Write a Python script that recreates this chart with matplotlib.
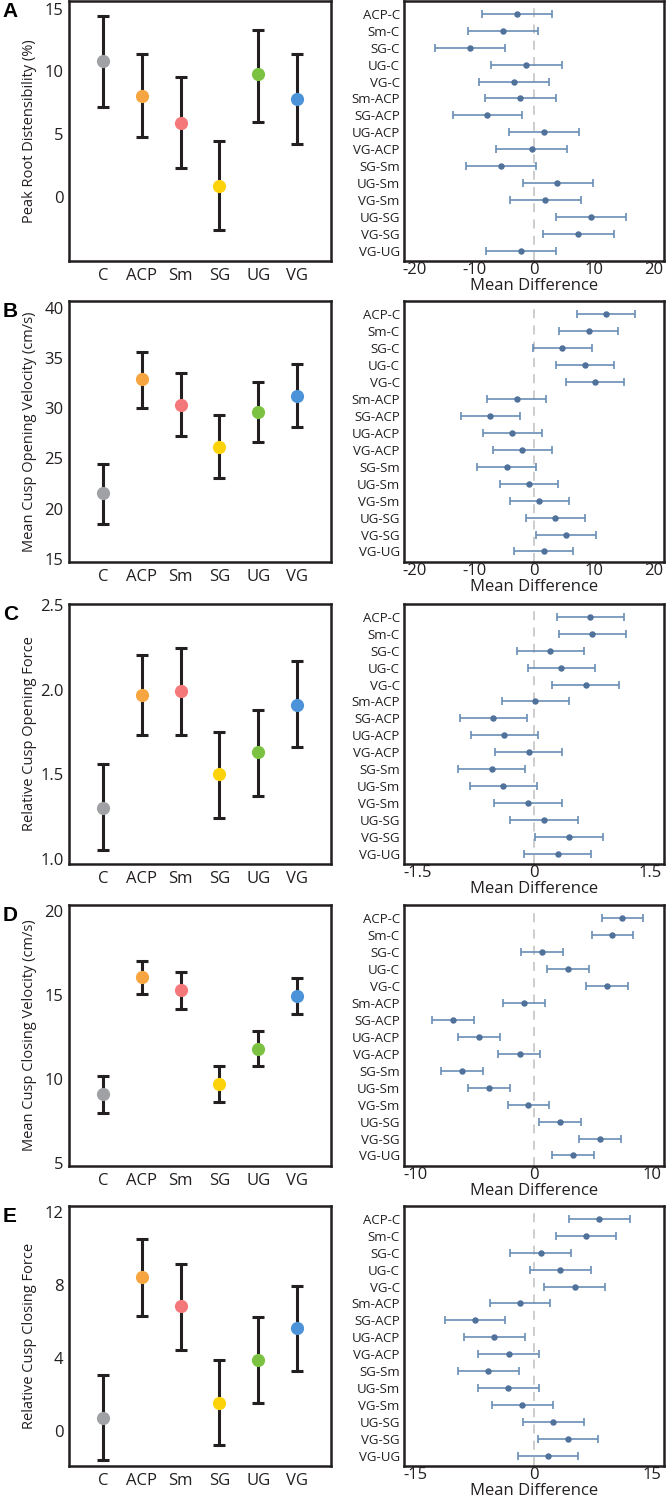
import numpy as np
import matplotlib
matplotlib.use("Agg")
import matplotlib.pyplot as plt

plt.rcParams['font.family'] = ['Open Sans', 'DejaVu Sans']
plt.rcParams['axes.unicode_minus'] = False

groups = ["C", "ACP", "Sm", "SG", "UG", "VG"]
group_colors = ["#a0a1a4", "#f7a540", "#f47879", "#fcd20a", "#7cc242", "#4b92d8"]

pairs = ["ACP-C", "Sm-C", "SG-C", "UG-C", "VG-C", "Sm-ACP", "SG-ACP", "UG-ACP",
         "VG-ACP", "SG-Sm", "UG-Sm", "VG-Sm", "UG-SG", "VG-SG", "VG-UG"]

# group means with their error bar ends (left panels)
distens_mean = [10.8, 8.05, 5.9, 0.85, 9.75, 7.8]
distens_lo = [7.2, 4.75, 2.3, -2.6, 6.0, 4.2]
distens_hi = [14.4, 11.4, 9.55, 4.45, 13.3, 11.4]

open_vel_mean = [21.55, 32.95, 30.3, 26.1, 29.6, 31.25]
open_vel_lo = [18.5, 30.05, 27.25, 23.05, 26.6, 28.1]
open_vel_hi = [24.45, 35.65, 33.5, 29.3, 32.6, 34.45]

open_force_mean = [1.30, 1.97, 1.99, 1.50, 1.63, 1.91]
open_force_lo = [1.05, 1.73, 1.73, 1.24, 1.37, 1.66]
open_force_hi = [1.56, 2.205, 2.245, 1.75, 1.88, 2.17]

close_vel_mean = [9.1, 16.05, 15.3, 9.7, 11.8, 14.93]
close_vel_lo = [7.97, 15.05, 14.16, 8.61, 10.74, 13.88]
close_vel_hi = [10.14, 17.0, 16.34, 10.78, 12.82, 15.98]

close_force_mean = [0.68, 8.42, 6.83, 1.54, 3.89, 5.61]
close_force_lo = [-1.61, 6.28, 4.44, -0.79, 1.50, 3.30]
close_force_hi = [3.03, 10.5, 9.17, 3.87, 6.22, 7.93]

# pairwise mean differences with confidence limits (right panels)
distens_diff = [-2.9, -5.2, -10.7, -1.28, -3.28, -2.28, -7.83, 1.6, -0.39, -5.5, 3.89, 1.89, 9.44, 7.39, -2.17]
distens_diff_lo = [-8.67, -11.06, -16.5, -7.1, -9.17, -8.1, -13.6, -4.17, -6.28, -11.28, -1.89, -3.94, 3.61, 1.5, -8.0]
distens_diff_hi = [3.0, 0.72, -4.83, 4.67, 2.5, 3.6, -1.94, 7.5, 5.5, 0.39, 9.83, 7.78, 15.28, 13.28, 3.72]

open_vel_diff = [12.06, 9.1, 4.72, 8.44, 10.17, -2.9, -7.28, -3.67, -2.0, -4.56, -0.83, 0.89, 3.56, 5.28, 1.61]
open_vel_diff_lo = [7.1, 4.2, -0.1, 3.6, 5.33, -7.83, -12.2, -8.5, -6.89, -9.5, -5.67, -4.0, -1.39, 0.39, -3.28]
open_vel_diff_hi = [16.9, 14.06, 9.67, 13.3, 15.1, 2.06, -2.39, 1.33, 2.94, 0.39, 4.06, 5.83, 8.5, 10.28, 6.56]

open_force_diff = [0.725, 0.751, 0.21, 0.352, 0.665, 0.013, -0.524, -0.382, -0.064, -0.545, -0.399, -0.077, 0.129, 0.446, 0.305]
open_force_diff_lo = [0.296, 0.318, -0.215, -0.073, 0.236, -0.416, -0.957, -0.807, -0.498, -0.979, -0.828, -0.511, -0.305, 0.013, -0.129]
open_force_diff_hi = [1.155, 1.18, 0.648, 0.785, 1.099, 0.446, -0.09, 0.056, 0.365, -0.116, 0.039, 0.356, 0.562, 0.884, 0.738]

close_vel_diff = [7.46, 6.62, 0.65, 2.85, 6.14, -0.85, -6.82, -4.65, -1.21, -6.08, -3.8, -0.48, 2.17, 5.58, 3.32]
close_vel_diff_lo = [5.72, 4.87, -1.1, 1.1, 4.39, -2.59, -8.62, -6.39, -3.01, -7.86, -5.55, -2.23, 0.39, 3.83, 1.55]
close_vel_diff_hi = [9.24, 8.39, 2.42, 4.62, 7.94, 0.93, -5.07, -2.87, 0.54, -4.31, -2.03, 1.27, 3.94, 7.35, 5.1]

close_force_diff = [8.27, 6.54, 0.84, 3.33, 5.19, -1.81, -7.55, -5.02, -3.16, -5.82, -3.29, -1.48, 2.45, 4.26, 1.77]
close_force_diff_lo = [4.43, 2.74, -3.0, -0.51, 1.31, -5.57, -11.35, -8.86, -7.05, -9.66, -7.13, -5.32, -1.43, 0.46, -2.07]
close_force_diff_hi = [12.15, 10.38, 4.68, 7.22, 9.03, 2.03, -3.67, -1.18, 0.68, -1.94, 0.59, 2.36, 6.29, 8.1, 5.61]

letters = ["A", "B", "C", "D", "E"]
ylabels = ["Peak Root Distensibility (%)", "Mean Cusp Opening Velocity (cm/s)",
           "Relative Cusp Opening Force", "Mean Cusp Closing Velocity (cm/s)",
           "Relative Cusp Closing Force"]
yticks_left = [[0, 5, 10, 15], [15, 20, 25, 30, 35, 40], [1.0, 1.5, 2.0, 2.5],
               [5, 10, 15, 20], [0, 4, 8, 12]]
xticks_right = [[-20, -10, 0, 10, 20], [-20, -10, 0, 10, 20], [-1.5, 0, 1.5],
                [-10, 0, 10], [-15, 0, 15]]

means = [distens_mean, open_vel_mean, open_force_mean, close_vel_mean, close_force_mean]
los = [distens_lo, open_vel_lo, open_force_lo, close_vel_lo, close_force_lo]
his = [distens_hi, open_vel_hi, open_force_hi, close_vel_hi, close_force_hi]
diffs = [distens_diff, open_vel_diff, open_force_diff, close_vel_diff, close_force_diff]
diff_los = [distens_diff_lo, open_vel_diff_lo, open_force_diff_lo, close_vel_diff_lo, close_force_diff_lo]
diff_his = [distens_diff_hi, open_vel_diff_hi, open_force_diff_hi, close_vel_diff_hi, close_force_diff_hi]

# layout (pixels from top of the 666x1497 image)
W, H = 666, 1497
row_px = [(1, 261), (301, 562), (604, 864), (905, 1166), (1206, 1466)]
ylims_left = [(-5.1, 15.6), (14.67, 40.7), (0.97, 2.506), (4.8, 20.36), (-1.94, 12.33)]
xlims_right = [21.7, 21.7, 1.675, 11.0, 16.5]

fig = plt.figure(figsize=(W / 100, H / 100), dpi=100)
frame_col = "#231f20"
bar_col = "#6a8db5"
dot_col = "#4f719a"

for i in range(5):
    top, bot = row_px[i]
    b = 1 - bot / H
    h = (bot - top) / H

    # left: group means with error bars
    ax = fig.add_axes([69 / W, b, (331 - 69) / W, h])
    x = np.arange(len(groups))
    m = np.array(means[i])
    lo = m - np.array(los[i])
    hi = np.array(his[i]) - m
    ax.errorbar(x, m, yerr=[lo, hi], fmt="none", ecolor=frame_col, elinewidth=2.2,
                capsize=4, capthick=2.2, zorder=2)
    for xi, yi, c in zip(x, m, group_colors):
        ax.plot(xi, yi, "o", ms=9.5, color=c, mec="none", zorder=3)
    ax.set_xlim(-0.88, 5.88)
    ax.set_ylim(*ylims_left[i])
    ax.set_xticks(x)
    ax.set_xticklabels(groups)
    ax.set_yticks(yticks_left[i])
    ax.tick_params(length=0, labelsize=12, colors="#231f20", pad=5)
    ax.tick_params(axis="y", pad=4)
    ax.set_ylabel(ylabels[i], fontsize=10.5, color="#231f20")
    ax.yaxis.set_label_coords(-0.122, 0.5)
    for s in ax.spines.values():
        s.set_linewidth(1.8)
        s.set_color(frame_col)

    fig.text(0.004, 1 - top / H - 0.001, letters[i], fontsize=15, fontweight="bold",
             family="Liberation Sans", va="top", ha="left", color="#000000")

    # right: pairwise mean differences
    ax2 = fig.add_axes([404 / W, b, (664 - 404) / W, h])
    y = np.arange(len(pairs))
    d = np.array(diffs[i])
    dlo = d - np.array(diff_los[i])
    dhi = np.array(diff_his[i]) - d
    ax2.axvline(0, color="#c9c9c9", lw=1.3, ls=(0, (5, 4)), zorder=1)
    ax2.errorbar(d, y, xerr=[dlo, dhi], fmt="none", ecolor=bar_col, elinewidth=1.2,
                 capsize=3, capthick=1.2, zorder=2)
    ax2.plot(d, y, "o", ms=3.6, color=dot_col, zorder=3)
    lim = xlims_right[i]
    ax2.set_xlim(-lim, lim)
    ax2.set_ylim(14.62, -0.77)
    ax2.set_yticks(y)
    ax2.set_yticklabels(pairs)
    ax2.set_xticks(xticks_right[i])
    ax2.xaxis.set_major_formatter(lambda v, p: f"{v:g}")
    ax2.tick_params(length=0, colors="#231f20")
    ax2.tick_params(axis="y", labelsize=9.5, pad=3)
    ax2.tick_params(axis="x", labelsize=12, pad=1)
    ax2.set_xlabel("Mean Difference", fontsize=12, color="#231f20", labelpad=0)
    for s in ax2.spines.values():
        s.set_linewidth(1.8)
        s.set_color(frame_col)

plt.savefig("out.png", dpi=100)
